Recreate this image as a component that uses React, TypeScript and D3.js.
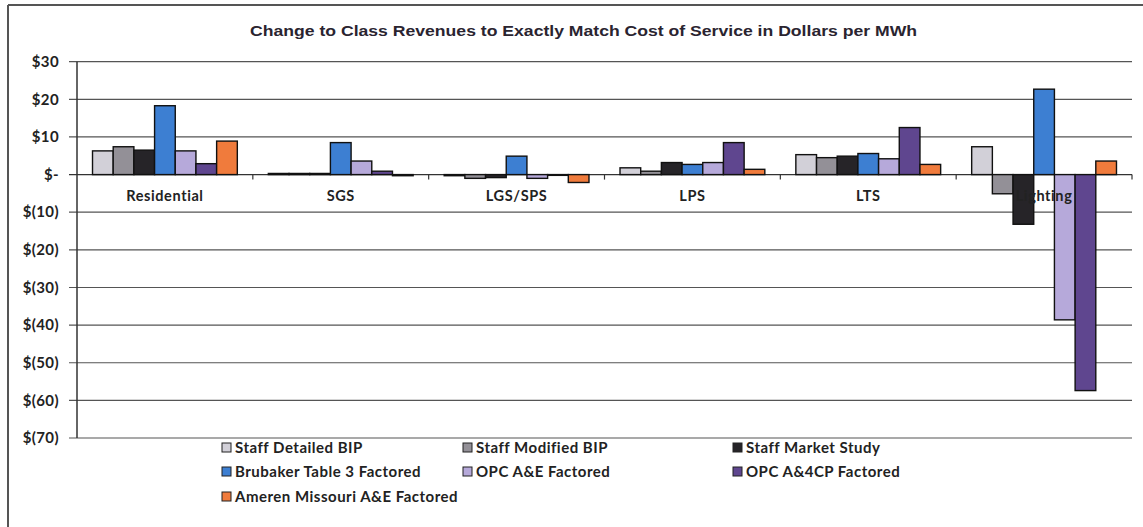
import React from "react";
import * as d3 from "d3";

const categories = ["Residential", "SGS", "LGS/SPS", "LPS", "LTS", "Lighting"];
const seriesNames = [
  "Staff Detailed BIP",
  "Staff Modified BIP",
  "Staff Market Study",
  "Brubaker Table 3 Factored",
  "OPC A&E Factored",
  "OPC A&4CP Factored",
  "Ameren Missouri A&E Factored",
];
const staffDetailed = [6.3, 0.3, -0.3, 1.8, 5.3, 7.4];
const staffModified = [7.4, 0.3, -1.0, 0.9, 4.5, -5.1];
const staffMarket = [6.5, 0.3, -0.8, 3.2, 4.9, -13.2];
const brubaker = [18.3, 8.5, 4.9, 2.7, 5.6, 22.7];
const opcAE = [6.3, 3.6, -1.0, 3.2, 4.2, -38.6];
const opcA4CP = [2.9, 0.9, -0.2, 8.5, 12.5, -57.4];
const ameren = [8.9, -0.3, -2.1, 1.4, 2.7, 3.6];
const yTicks = [30, 20, 10, 0, -10, -20, -30, -40, -50, -60, -70];

const seriesValues = [staffDetailed, staffModified, staffMarket, brubaker, opcAE, opcA4CP, ameren];
const colors = ["#d2d0d8", "#939097", "#262428", "#3d7fd2", "#b6a9da", "#5f468f", "#f07b3c"];

const fmt = (v: number) => (v === 0 ? "$-" : v > 0 ? `$${v}` : `$(${-v})`);

export default function App() {
  const W = 1143, H = 527;
  const left = 77, right = 1132, top = 61.7, bottom = 438;
  const x = d3.scaleBand().domain(categories).range([left, right]).padding(0);
  const bw = x.bandwidth();
  const off = (bw * 0.75) / 8.5;
  const xi = d3.scaleBand().domain(seriesNames).range([off, bw - off]).padding(0);
  const y = d3.scaleLinear().domain([-70, 30]).range([bottom, top]);
  const y0 = y(0);
  const legendCols = [222, 463, 733];
  const legendRows = [448, 472, 497];
  const labelFont = "Lato, 'Open Sans', sans-serif";

  return (
    <svg width={W} height={H} style={{ position: "absolute", left: 0, top: 0, background: "#fff" }}>
      <rect x={0} y={0} width={W} height={H} fill="#fff" />
      {/* frame */}
      <line x1={8} x2={W} y1={5} y2={5} stroke="#555" strokeWidth={2} />
      <line x1={8} x2={8} y1={5} y2={H} stroke="#555" strokeWidth={2} />
      <text x={583.5} y={36} textAnchor="middle" fontFamily="'Liberation Sans', Arial, sans-serif" fontWeight="bold" fontSize={15} fill="#2a2430" textLength={667} lengthAdjust="spacingAndGlyphs">
        Change to Class Revenues to Exactly Match Cost of Service in Dollars per MWh
      </text>
      {/* gridlines and y ticks */}
      {yTicks.map((t) => (
        <g key={t}>
          <line x1={left - 8} x2={right} y1={y(t)} y2={y(t)} stroke={t === 0 ? "#333" : "#555"} strokeWidth={1.2} />
          <text x={59} y={y(t)} dy="0.35em" textAnchor="end" fontFamily={labelFont} fontWeight="bold" fontSize={15} letterSpacing={0.4} fill="#222">
            {fmt(t)}
          </text>
        </g>
      ))}
      <line x1={left} x2={left} y1={top} y2={bottom} stroke="#333" strokeWidth={1.5} />
      {/* category ticks */}
      {categories.slice(1).concat(["end"]).map((c, i) => {
        const xx = left + bw * (i + 1);
        return <line key={c} x1={xx} x2={xx} y1={y0} y2={y0 + 5} stroke="#333" strokeWidth={1.2} />;
      })}
      {/* bars */}
      {categories.map((c, ci) => (
        <g key={c} transform={`translate(${x(c)},0)`}>
          {seriesNames.map((s, si) => {
            const v = seriesValues[si][ci];
            const yy = Math.min(y(v), y0);
            const h = Math.abs(y(v) - y0);
            return (
              <rect key={s} x={xi(s)} y={yy} width={xi.bandwidth()} height={h} fill={colors[si]} stroke="#111" strokeWidth={1.4} />
            );
          })}
        </g>
      ))}
      {/* category labels */}
      {categories.map((c) => (
        <text key={c} x={(x(c) as number) + bw / 2} y={201} textAnchor="middle" fontFamily={labelFont} fontWeight="bold" fontSize={14.5} letterSpacing={0.6} fill="#222">
          {c}
        </text>
      ))}
      {/* legend */}
      {seriesNames.map((s, i) => {
        const lx = legendCols[i % 3];
        const ly = legendRows[Math.floor(i / 3)];
        return (
          <g key={s}>
            <rect x={lx} y={ly - 5} width={9} height={9} fill={colors[i]} stroke="#222" strokeWidth={1} />
            <text x={lx + 13} y={ly} dy="0.35em" fontFamily={labelFont} fontWeight="bold" fontSize={15} letterSpacing={0.5} fill="#222">
              {s}
            </text>
          </g>
        );
      })}
    </svg>
  );
}
